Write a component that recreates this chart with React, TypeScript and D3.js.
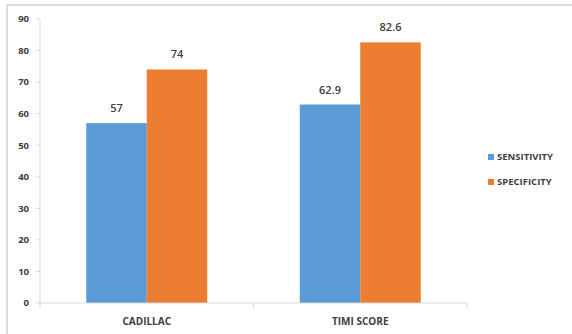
import React from "react";
import * as d3 from "d3";

const categories = ["CADILLAC", "TIMI SCORE"];
const seriesNames = ["SENSITIVITY", "SPECIFICITY"];
const sensitivity = [57, 62.9];
const specificity = [74, 82.6];
const yTicks = [0, 10, 20, 30, 40, 50, 60, 70, 80, 90];
const colors = ["#5B9BD5", "#ED7D31"];

const W = 572;
const H = 334;
const plot = { left: 40, right: 467, top: 19, bottom: 303 };
const font = "'Open Sans', 'Liberation Sans', sans-serif";
const textColor = "#404040";
const axisColor = "#d9d9d9";

export default function App() {
  const values = [sensitivity, specificity];
  const x0 = d3.scaleBand<string>().domain(categories).range([plot.left, plot.right]);
  const groupWidth = 121;
  const x1 = d3.scaleBand<string>().domain(seriesNames).range([0, groupWidth]);
  const y = d3.scaleLinear().domain([0, 90]).range([plot.bottom, plot.top]);
  const fmt = (v: number) => (Number.isInteger(v) ? String(v) : v.toFixed(1));

  return (
    <svg
      width={W}
      height={H}
      style={{ position: "absolute", left: 0, top: 0, background: "#fff" }}
      fontFamily={font}
    >
      {/* frame */}
      <line x1={7} x2={W} y1={5} y2={5} stroke="#d0d0d0" strokeWidth={1.5} />
      <line x1={7} x2={7} y1={5} y2={H} stroke="#d0d0d0" strokeWidth={1.5} />

      {/* y axis */}
      <line x1={plot.left} x2={plot.left} y1={plot.top} y2={plot.bottom} stroke={axisColor} />
      {yTicks.map((t) => (
        <g key={t}>
          <line x1={plot.left - 4} x2={plot.left} y1={y(t)} y2={y(t)} stroke={axisColor} />
          <text
            x={29}
            y={y(t)}
            dy="0.35em"
            textAnchor="end"
            fontSize={9.5}
            fontWeight="bold"
            fill={textColor}
          >
            {t}
          </text>
        </g>
      ))}

      {/* bars */}
      {categories.map((c, ci) => {
        const gx = (x0(c) as number) + (x0.bandwidth() - groupWidth) / 2;
        return (
          <g key={c}>
            {seriesNames.map((s, si) => {
              const v = values[si][ci];
              const bx = gx + (x1(s) as number);
              return (
                <g key={s}>
                  <rect
                    x={bx}
                    y={y(v)}
                    width={x1.bandwidth()}
                    height={y(0) - y(v)}
                    fill={colors[si]}
                  />
                  <text
                    x={bx + x1.bandwidth() / 2}
                    y={y(v) - 11}
                    textAnchor="middle"
                    fontSize={11}
                    fontWeight="600"
                    fill={textColor}
                  >
                    {fmt(v)}
                  </text>
                </g>
              );
            })}
          </g>
        );
      })}

      {/* x axis */}
      <line x1={plot.left} x2={plot.right} y1={plot.bottom} y2={plot.bottom} stroke={axisColor} />
      {[...categories.map((c) => x0(c) as number), plot.right].map((tx, i) => (
        <line key={i} x1={tx} x2={tx} y1={plot.bottom} y2={plot.bottom + 5} stroke={axisColor} />
      ))}
      {categories.map((c) => (
        <text
          key={c}
          x={(x0(c) as number) + x0.bandwidth() / 2}
          y={321}
          dy="0.35em"
          textAnchor="middle"
          fontSize={10}
          fontWeight="bold"
          fill={textColor}
        >
          {c}
        </text>
      ))}

      {/* legend */}
      {seriesNames.map((s, i) => (
        <g key={s} transform={`translate(488, ${157 + i * 25})`}>
          <rect x={0} y={-3} width={6} height={6} fill={colors[i]} />
          <text x={9} y={0} dy="0.35em" fontSize={9.5} fontWeight="bold" fill={textColor}>
            {s}
          </text>
        </g>
      ))}
    </svg>
  );
}
